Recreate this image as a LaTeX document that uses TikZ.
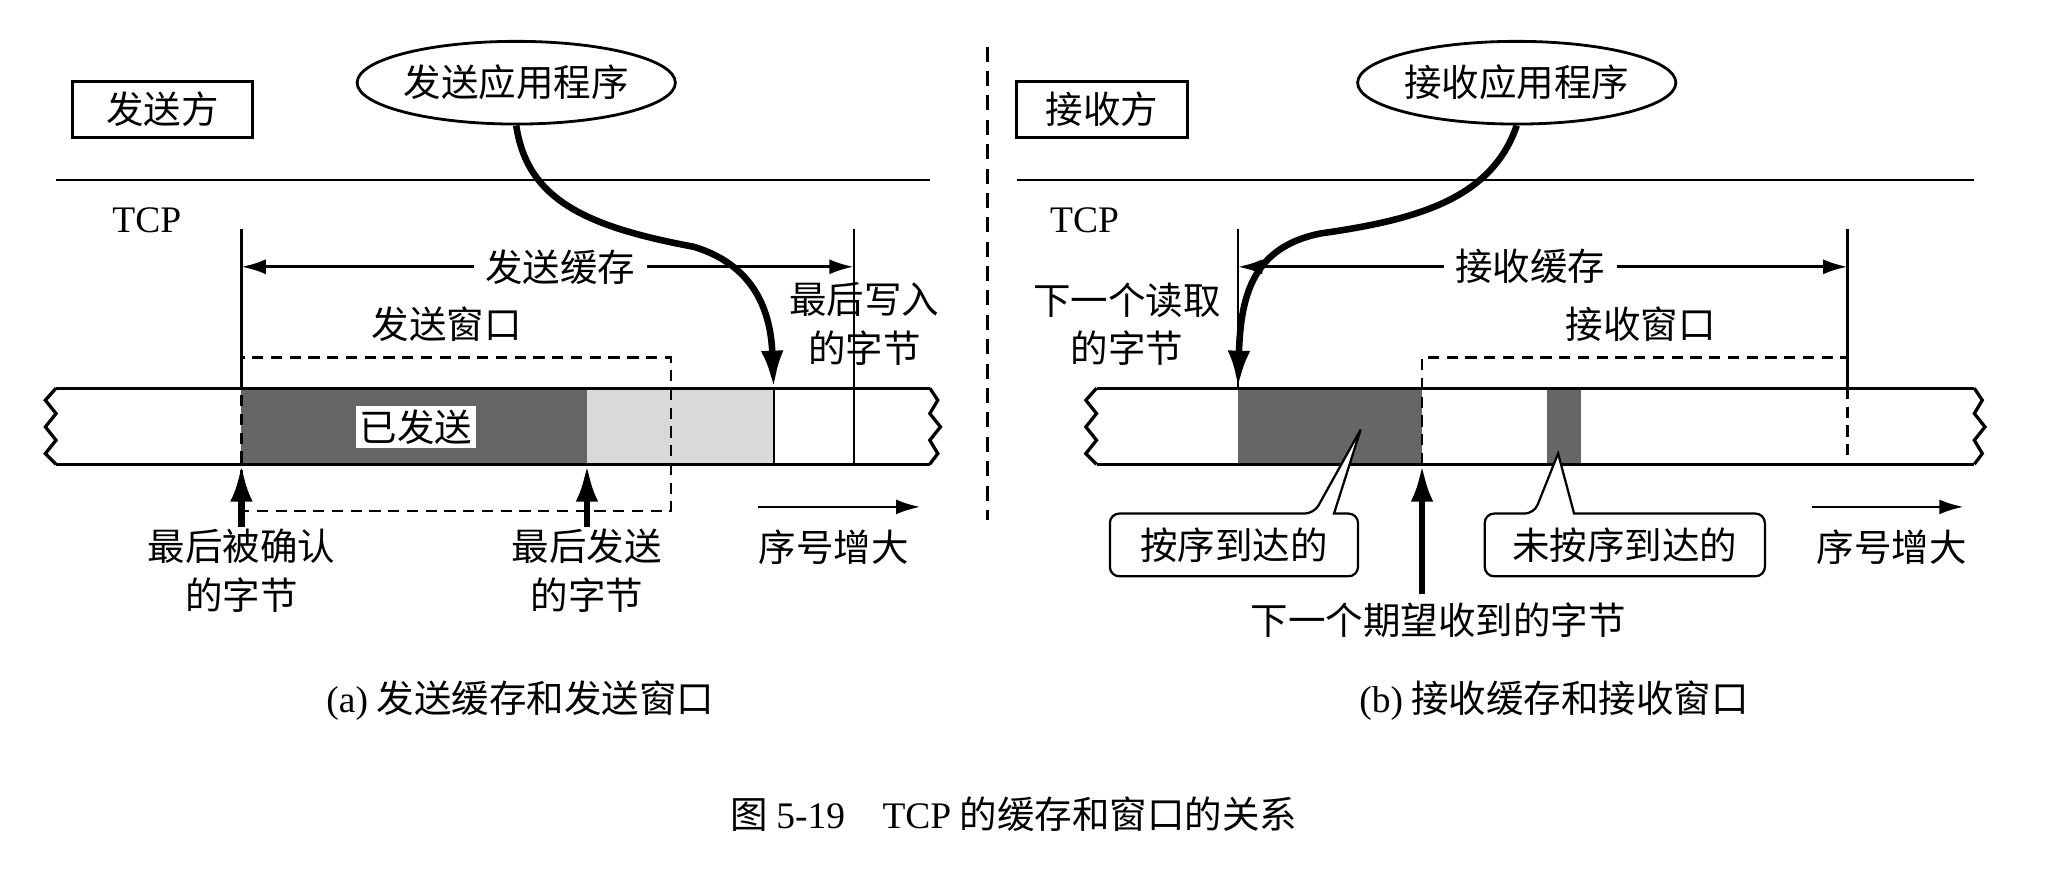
\documentclass[tikz,border=0pt]{standalone}
\usepackage{fontspec}
\setmainfont{Noto Sans CJK SC}
\newfontfamily\lat{Liberation Serif}
\usetikzlibrary{arrows.meta,shapes.geometric}
\begin{document}
\begin{tikzpicture}[x=0.05cm,y=-0.05cm,
  txt/.style={font=\fontsize{40}{52}\selectfont, inner sep=2pt},
  ln/.style={line width=2.4pt},
  arr/.style={line width=3pt,-{Latex[length=26pt,width=16pt]}},
  thick arr/.style={line width=7pt,-{Latex[length=40pt,width=24pt]}},
  dsh/.style={line width=2.4pt,dash pattern=on 12pt off 8pt},
  wave/.style={line width=3.5pt}]
\useasboundingbox (0,0) rectangle (1545,652);
% ===== left =====
\node[txt,draw,line width=3pt,minimum width=135*0.05cm,minimum height=42*0.05cm] (sbox) at (122,82) {发送方};
\node[txt,draw,ellipse,line width=3pt,minimum width=230*0.05cm,minimum height=62*0.05cm,inner sep=0pt] (sapp) at (387,62) {发送应用程序};
\coordinate (l1) at (42,135); \coordinate (l2) at (697,135);
\draw[ln] (l1) -- (l2);
\node[txt] (stcp) at (110,165) {\lat TCP};
\fill[black!60] (181,291) rectangle (440,348);
\fill[black!15] (440,291) rectangle (580,348);
\node[txt,fill=white,inner sep=4pt] (sent) at (312,320) {已发送};
\coordinate (sa) at (42,291); \coordinate (sb) at (697,291);
\coordinate (sc) at (42,348); \coordinate (sd) at (697,348);
\draw[wave] (sa) -- (sb); \draw[wave] (sc) -- (sd);
\draw[wave] (sa) -- (34,300) -- (42,310) -- (34,320) -- (42,330) -- (34,340) -- (sc);
\draw[wave] (sb) -- (703,300) -- (697,310) -- (705,320) -- (697,330) -- (703,340) -- (sd);
\draw[ln] (580,291) -- (580,348);
\coordinate (t1a) at (181,172); \coordinate (t1b) at (181,291);
\coordinate (t2a) at (640,172); \coordinate (t2b) at (640,348);
\draw[ln] (t1a) -- (t1b); \draw[ln] (t2a) -- (t2b);
\node[txt,inner xsep=12pt] (sbuf) at (420,200) {发送缓存};
\draw[arr] (sbuf.west) -- (181,200);
\draw[arr] (sbuf.east) -- (640,200);
\node[txt] (swin) at (335,243) {发送窗口};
\draw[dsh] (181,268) rectangle (503,383);
\coordinate (sw) at (580,291);
\draw[thick arr] (sapp.south) .. controls (395,150) and (440,170) .. (520,185) .. controls (570,200) and (578,240) .. (sw);
\node[txt,align=center] (slast) at (648,243) {最后写入\\的字节};
\node[txt,align=center] (sack) at (181,428) {最后被确认\\的字节};
\node[txt,align=center] (ssnd) at (440,428) {最后发送\\的字节};
\draw[thick arr] (181,395) -- (181,348);
\draw[thick arr] (440,395) -- (440,348);
\node[txt] (sseq) at (625,410) {序号增大};
\coordinate (sq1) at (568,380); \coordinate (sq2) at (690,380);
\draw[arr] (sq1) -- (sq2);
\node[txt] (capa) at (390,525) {{\lat (a)} 发送缓存和发送窗口};
% divider
\coordinate (d1) at (740,35); \coordinate (d2) at (740,390);
\draw[line width=3.5pt,dash pattern=on 16pt off 10pt] (d1) -- (d2);
% ===== right =====
\node[txt,draw,line width=3pt,minimum width=128*0.05cm,minimum height=42*0.05cm] (rbox) at (826,82) {接收方};
\node[txt,draw,ellipse,line width=3pt,minimum width=230*0.05cm,minimum height=62*0.05cm,inner sep=0pt] (rapp) at (1137,62) {接收应用程序};
\coordinate (r1) at (762,135); \coordinate (r2) at (1480,135);
\draw[ln] (r1) -- (r2);
\node[txt] (rtcp) at (813,165) {\lat TCP};
\fill[black!60] (928,291) rectangle (1066,348);
\fill[black!60] (1160,291) rectangle (1185,348);
\coordinate (ra) at (822,291); \coordinate (rb) at (1480,291);
\coordinate (rc) at (822,348); \coordinate (rd) at (1480,348);
\draw[wave] (ra) -- (rb); \draw[wave] (rc) -- (rd);
\draw[wave] (ra) -- (814,300) -- (822,310) -- (814,320) -- (822,330) -- (814,340) -- (rc);
\draw[wave] (rb) -- (1486,300) -- (1480,310) -- (1488,320) -- (1480,330) -- (1486,340) -- (rd);
\coordinate (u1a) at (928,172); \coordinate (u1b) at (928,291);
\coordinate (u2a) at (1385,172); \coordinate (u2b) at (1385,291);
\draw[ln] (u1a) -- (u1b); \draw[ln] (u2a) -- (u2b);
\node[txt,inner xsep=12pt] (rbuf) at (1147,200) {接收缓存};
\draw[arr] (rbuf.west) -- (928,200);
\draw[arr] (rbuf.east) -- (1385,200);
\node[txt,align=center] (rread) at (845,243) {下一个读取\\的字节};
\node[txt] (rwin) at (1230,243) {接收窗口};
\draw[dsh] (1066,348) -- (1066,268) -- (1385,268) -- (1385,348);
\coordinate (rw) at (928,291);
\draw[thick arr] (rapp.south) .. controls (1118,150) and (1060,165) .. (990,175) .. controls (940,185) and (930,220) .. (rw);
% callouts
\draw[line width=2.4pt,rounded corners=10pt,fill=white] (832,385) -- (985,385) [sharp corners]-- (1020,322) -- (1000,385) [rounded corners=10pt]-- (1018,385) -- (1018,432) -- (832,432) -- cycle;
\node[txt] (inord) at (925,409) {按序到达的};
\draw[line width=2.4pt,rounded corners=10pt,fill=white] (1113,385) -- (1150,385) [sharp corners]-- (1168,340) -- (1180,385) [rounded corners=10pt]-- (1323,385) -- (1323,432) -- (1113,432) -- cycle;
\node[txt] (outord) at (1218,409) {未按序到达的};
\node[txt] (rexp) at (1078,465) {下一个期望收到的字节};
\draw[thick arr] (1066,445) -- (1066,348);
\node[txt] (rseq) at (1418,410) {序号增大};
\coordinate (rq1) at (1358,380); \coordinate (rq2) at (1472,380);
\draw[arr] (rq1) -- (rq2);
\node[txt] (capb) at (1165,525) {{\lat (b)} 接收缓存和接收窗口};
\node[txt] (cap) at (760,610) {图 {\lat 5-19}\quad {\lat TCP} 的缓存和窗口的关系};
\end{tikzpicture}
\end{document}
